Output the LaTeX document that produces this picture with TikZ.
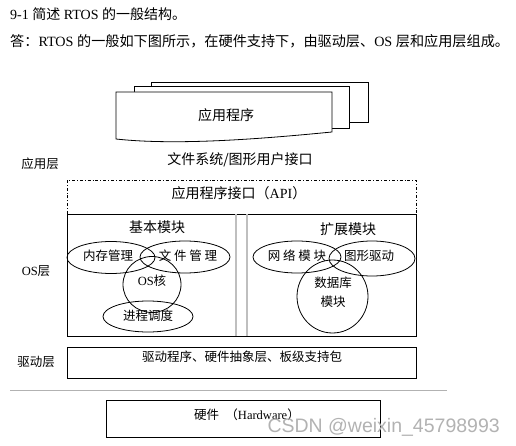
\documentclass[tikz,border=0pt]{standalone}
\usepackage{fontspec}
\setmainfont{Liberation Serif}
\newfontfamily\cjk{Noto Sans CJK SC}
\newfontfamily\wmfont{Liberation Sans}
\usetikzlibrary{shapes.geometric}
\newcommand{\zh}[1]{{\cjk #1}}
\begin{document}
\begin{tikzpicture}[x=1pt,y=-1pt,
  big/.style={font=\fontsize{14}{16}\selectfont, inner sep=0pt},
  small/.style={font=\fontsize{12.5}{14}\selectfont, inner sep=0pt},
  box/.style={draw, line width=0.8pt},
  page/.style={draw, line width=0.8pt, fill=white},
  ell/.style={draw, line width=0.8pt, ellipse, minimum width=#1},
  divider/.style={draw=black!25, line width=1.2pt},
]
\useasboundingbox (0,0) rectangle (516,446);
% title lines
\node[big, anchor=west] (t1) at (10,14) {9-1\ \zh{简述} RTOS \zh{的一般结构。}};
\node[big, font=\fontsize{14.15}{16}\selectfont, anchor=west] (t2) at (10,41) {\zh{答：}RTOS \zh{的一般如下图所示，在硬件支持下，由驱动层、}OS \zh{层和应用层组成。}};
% stacked application pages
\draw[page] (151,82) rectangle (368,122);
\draw[page] (134,86) rectangle (349,128);
\draw[page] (116,92) -- (332,92) -- (332,132) .. controls (270,138) and (180,146) .. (116,139) -- cycle;
\node[big] (app) at (226,115) {\zh{应用程序}};
% application layer
\node[small] (applayer) at (40,164) {\zh{应用层}};
\node[big] (fs) at (240,160) {\zh{文件系统/图形用户接口}};
\draw[line width=0.8pt, dash dot] (67,214) -- (67,180) -- (416,180) -- (416,214);
\node[big] (api) at (239,193) {\zh{应用程序接口（}API\zh{）}};
% OS layer
\node[small] (oslayer) at (36,271) {OS\zh{层}};
\draw[box] (67,214) rectangle (416,336);
\draw[divider] (236,214) -- (236,336);
\draw[divider] (247,214) -- (247,336);
% basic modules
\node[big] (basic) at (157,227) {\zh{基本模块}};
\node[ell=88pt, minimum height=32pt] (mem) at (111,257.5) {};
\node[ell=90pt, minimum height=32pt] (file) at (185,257) {};
\node[ell=58pt, minimum height=56pt] (kernel) at (152,284.5) {};
\node[ell=90pt, minimum height=31pt] (proc) at (148,316.5) {};
\node[small] (memt) at (108,256) {\zh{内存管理}};
\node[small] (filet) at (188,256) {\zh{文\ 件\ 管\ 理}};
\node[small] (kernt) at (152,281) {OS\zh{核}};
\node[small] (proct) at (148,316) {\zh{进程调度}};
% extension modules
\node[big] (ext) at (348,229) {\zh{扩展模块}};
\node[ell=88pt, minimum height=32pt] (net) at (297,257) {};
\node[ell=86pt, minimum height=35pt] (gfx) at (372,258.5) {};
\node[ell=71pt, minimum height=73pt] (db) at (332.5,296.5) {};
\node[small] (nett) at (297,256) {\zh{网\ 络\ 模\ 块}};
\node[small] (gfxt) at (369,256) {\zh{图形驱动}};
\node[small] (dbt1) at (333,283) {\zh{数据库}};
\node[small] (dbt2) at (333,302) {\zh{模块}};
% driver layer
\node[small] (drvlayer) at (36,362) {\zh{驱动层}};
\draw[box] (67,347) rectangle (416,378);
\node[small] (drv) at (242,357) {\zh{驱动程序、硬件抽象层、板级支持包}};
% separator
\draw[line width=1pt, draw=black!30] (10,390) -- (447,390);
% hardware
\draw[box] (106,400) rectangle (380,437);
\node[small] (hw) at (247,415) {\zh{硬件}\ \ \zh{（}Hardware\zh{）}};
% watermark
\node[font=\wmfont\fontsize{19.5}{21}\selectfont, text=black!30, inner sep=0pt, anchor=east] (wm) at (500,427) {CSDN @weixin\_45798993};
\end{tikzpicture}
\end{document}
